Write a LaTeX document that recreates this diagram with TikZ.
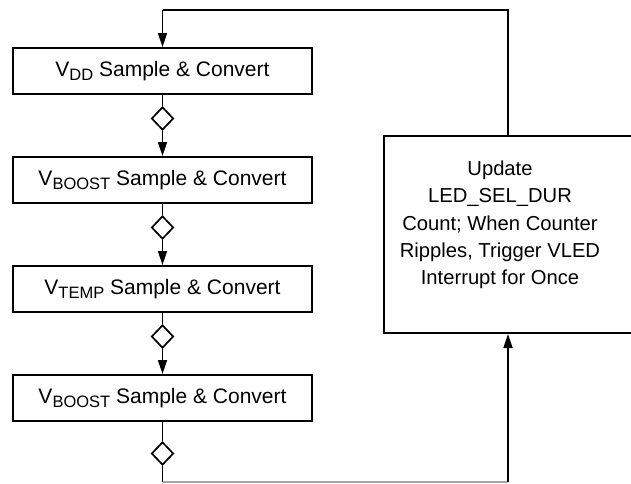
\documentclass[tikz,border=0pt]{standalone}
\usepackage{fontspec}
\setmainfont{Liberation Sans}
\usetikzlibrary{shapes.geometric,arrows.meta}
\newcommand{\lowsub}[1]{\raisebox{-0.38ex}{\fontsize{16.5}{17}\selectfont #1}}
\tikzset{
  stepbox/.style={draw, line width=2pt, rectangle, minimum width=299pt, minimum height=46pt, inner sep=0pt, font=\fontsize{21}{24}\selectfont},
  gate/.style={draw, line width=1.7pt, diamond, minimum width=22pt, minimum height=23pt, inner sep=0pt, fill=white},
  conn/.style={line width=1.7pt},
  arr/.style={line width=1.7pt, -{Triangle[length=14pt,width=9pt]}},
}
\begin{document}
\begin{tikzpicture}[x=1pt,y=-1pt]
\useasboundingbox (0,0) rectangle (631,483);
\node[stepbox] (b1) at (162.5,71) {V\lowsub{DD} Sample \& Convert};
\node[gate] (d1) at (162.5,118.5) {};
\node[stepbox] (b2) at (162.5,180) {V\lowsub{BOOST} Sample \& Convert};
\node[gate] (d2) at (162.5,227.5) {};
\node[stepbox] (b3) at (162.5,289) {V\lowsub{TEMP} Sample \& Convert};
\node[gate] (d3) at (162.5,336.5) {};
\node[stepbox] (b4) at (162.5,398) {V\lowsub{BOOST} Sample \& Convert};
\node[gate] (d4) at (162.5,453.5) {};
\node[draw, line width=2pt, rectangle, minimum width=248pt, minimum height=197pt, inner sep=0pt] (R) at (508,234.5) {};
\node[align=center, font=\fontsize{20.2}{27.3}\selectfont] (Rt) at (500,225) {Update\\LED\_SEL\_DUR\\Count; When Counter\\Ripples, Trigger VLED\\Interrupt for Once};
\coordinate (tr) at (508,10);
\coordinate (tl) at (162.5,10);
\coordinate (bl) at (162.5,482);
\coordinate (br) at (508,482);
\draw[conn] (R.north) -- (tr) -- (tl);
\draw[arr] (tl) -- (b1.north);
\draw[conn] (b1.south) -- (d1.north);
\draw[arr] (d1.south) -- (b2.north);
\draw[conn] (b2.south) -- (d2.north);
\draw[arr] (d2.south) -- (b3.north);
\draw[conn] (b3.south) -- (d3.north);
\draw[arr] (d3.south) -- (b4.north);
\draw[conn] (b4.south) -- (d4.north);
\draw[conn] (d4.south) -- (bl);
\draw[line width=1.5pt, black!35] (bl) -- (br);
\draw[arr] (br) -- (R.south);
\end{tikzpicture}
\end{document}
